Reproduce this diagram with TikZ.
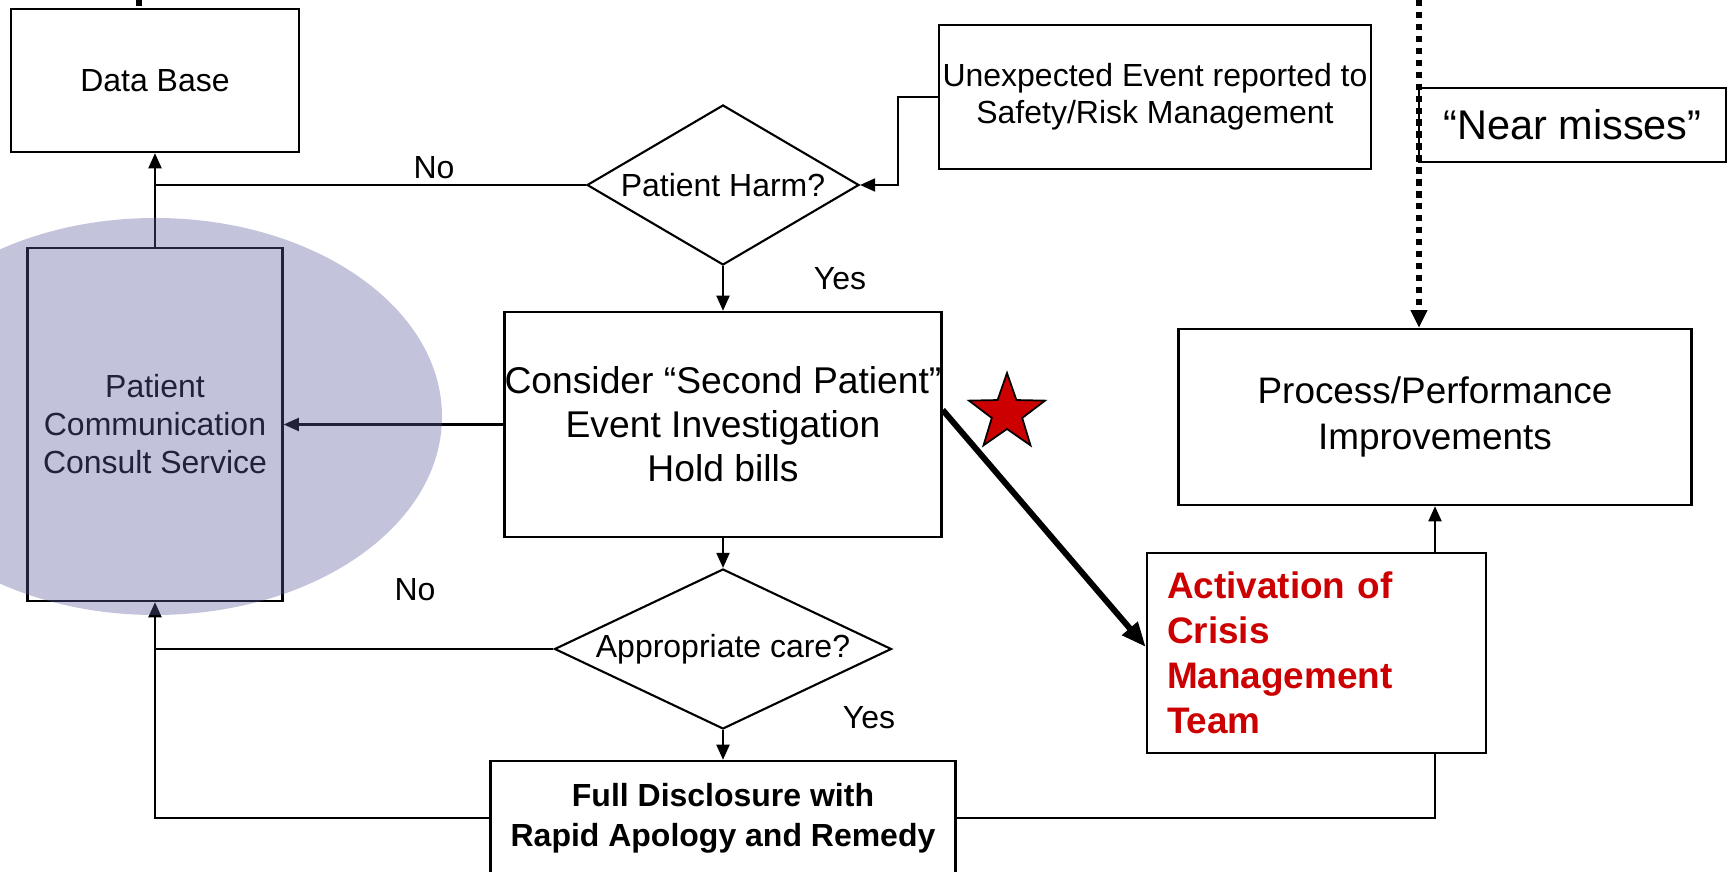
\documentclass[tikz,border=0pt]{standalone}
\usepackage{fontspec}
\setmainfont{Liberation Sans}
\usetikzlibrary{shapes.geometric,arrows.meta}
\definecolor{crisisred}{RGB}{204,0,0}
\definecolor{bubblegray}{RGB}{92,92,157}

\begin{document}
\begin{tikzpicture}[line width=0.6pt,
        box/.style={draw, line width=0.7pt, fill=white, align=center, inner sep=0pt},
        choice/.style={draw, diamond, aspect=2, fill=white, inner sep=0pt},
        arr/.style={-{Triangle[length=4.3pt,width=3.7pt]}},
        heavy/.style={line width=1.7pt, -{Triangle[length=7pt,width=5.5pt]}},
        dots/.style={line width=1.8pt, dash pattern=on 1.8pt off 1.6pt}]
                \tikzstyle{every node}=[font=\fontsize{9.1}{10.5}\selectfont]
                \useasboundingbox (0,0) rectangle (17.29,8.72);
                \clip (0,0) rectangle (17.29,8.72);
                \node[box, minimum width=2.88cm, minimum height=1.43cm] (db) at (1.55, 7.915) {Data Base};
                \node[box, minimum width=4.32cm, minimum height=1.44cm] (report) at (11.55, 7.75) {Unexpected Event reported to\\Safety/Risk Management};
                \node[box, minimum width=3.07cm, minimum height=0.74cm, font=\fontsize{11.8}{14}\selectfont] (near) at (15.725, 7.47) {“Near misses”};
                \node[choice, minimum width=2.72cm, minimum height=1.6cm] (harm) at (7.23, 6.87) {Patient Harm?};
                \node[box, minimum width=4.32cm, minimum height=2.25cm, font=\fontsize{10.6}{12.5}\selectfont] (second) at (7.23, 4.475) {Consider “Second Patient”\\Event Investigation\\Hold bills};
                \node[box, minimum width=2.55cm, minimum height=3.53cm, font=\fontsize{9.1}{10.8}\selectfont] (pccs) at (1.55, 4.475) {Patient\\Communication\\Consult Service};
                \node[box, minimum width=5.13cm, minimum height=1.76cm, font=\fontsize{10.5}{13}\selectfont] (improve) at (14.35, 4.55) {Process/Performance\\Improvements};
                \node[choice, minimum width=3.37cm, minimum height=1.6cm] (care) at (7.23, 2.23) {Appropriate care?};
                \node[box, minimum width=4.65cm, minimum height=1.14cm, font=\bfseries\fontsize{9.1}{11.4}\selectfont] (disclose) at (7.23, 0.54) {Full Disclosure with\\Rapid Apology and Remedy};
                \node[box, minimum width=3.39cm, minimum height=2cm, align=left, text width=2.99cm, inner xsep=0.2cm, text=crisisred, font=\bfseries\fontsize{10.5}{12.8}\selectfont] (crisis) at (13.165, 2.19) {Activation of\\Crisis\\Management\\Team};
                \node[star, star points=5, star point ratio=2.5, draw, line width=0.5pt, fill=crisisred, inner sep=0pt, minimum size=0.8cm] (badge) at (10.07, 4.59) {};
                \node (no1) at (4.34, 7.04) {No};
                \node (yes1) at (8.40, 5.93) {Yes};
                \node (no2) at (4.15, 2.82) {No};
                \node (yes2) at (8.69, 1.54) {Yes};
            \coordinate (top1) at (1.39, 8.72);
            \coordinate (top2) at (14.19, 8.72);

            \draw[arr] (report.west) -- ++(-0.4,0) |- (harm.east);
            \draw (harm.west) -- (harm.west -| db.south);
            \draw[arr] (pccs.north) -- (db.south);
            \draw[arr] (harm.south) -- (second.north);
            \draw[arr] (second.west) -- (pccs.east);
            \draw[arr] (second.south) -- (care.north);
            \draw (care.west) -- (care.west -| pccs.south);
            \draw[arr] (care.south) -- (disclose.north);
            \draw[arr] (disclose.west) -| (pccs.south);
            \draw (disclose.east) -| (crisis.south -| improve.south);
            \draw[arr] (crisis.north -| improve.south) -- (improve.south);
            \draw[heavy] ([yshift=1.45mm]second.east) -- ([yshift=0.6mm]crisis.west);
            \draw[dots, -{Triangle[length=5pt,width=4.5pt]}] (top2) -- (top2 |- improve.north);
            \draw[dots] (top1) -- (top1 |- db.north);
            %\draw[thick] (pccs) circle (2cm);
            \fill[bubblegray, fill opacity=0.37] (1.55, 4.555) ellipse (2.87 and 1.985);
          \end{tikzpicture}
\end{document}
